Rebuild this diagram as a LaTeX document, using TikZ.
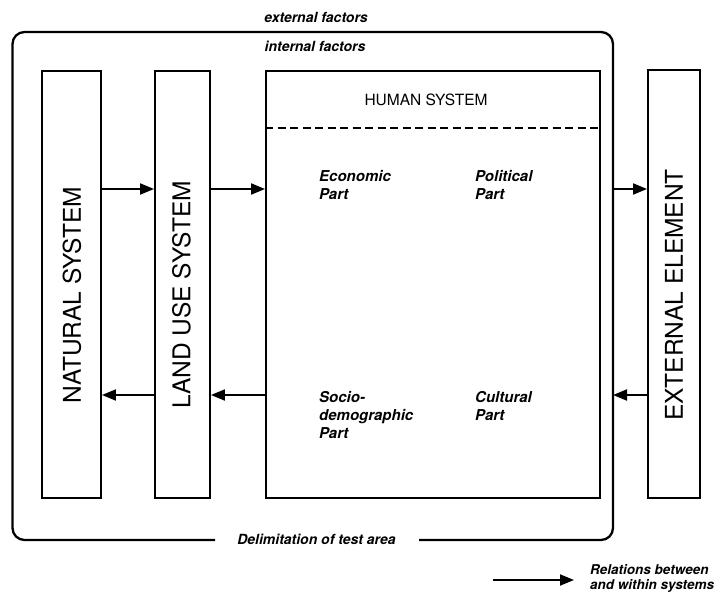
\documentclass[tikz,border=0pt]{standalone}
\usepackage{fontspec}
\setmainfont{TeX Gyre Heros}
\usetikzlibrary{arrows.meta}
\begin{document}
\begin{tikzpicture}[x=1pt,y=-1pt,
  box/.style={draw, line width=1.9pt, inner sep=0pt},
  conn/.style={line width=1.9pt, -{Triangle[length=14pt,width=11pt]}},
  syslabel/.style={font=\fontsize{24.5}{28}\selectfont, rotate=90, inner sep=0pt},
  part/.style={font=\fontsize{15}{17.8}\selectfont\bfseries\itshape, align=left, anchor=north west, inner sep=0pt},
  note/.style={font=\fontsize{14}{16}\selectfont\bfseries\itshape, inner sep=0pt}
]
\useasboundingbox (0,0) rectangle (720,594);
\fill[white] (0,0) rectangle (720,594);

% outer boundary (delimitation of test area)
\draw[line width=2.3pt, rounded corners=12pt] (215,540) -- (12.5,540) -- (12.5,32) -- (613,32) -- (613,540) -- (419,540);
\coordinate (ob) at (613,0);

% systems
\node[box, minimum width=59pt, minimum height=427pt] (ns) at (71.5,284.5) {};
\node[box, minimum width=55pt, minimum height=427pt] (lu) at (182.5,284.5) {};
\node[box, minimum width=334pt, minimum height=427pt] (hs) at (433,284.5) {};
\node[box, minimum width=52pt, minimum height=428pt] (ee) at (674,284) {};

\node[syslabel] (nsl) at (72,295) {NATURAL SYSTEM};
\node[syslabel] (lul) at (181.5,295) {LAND USE SYSTEM};
\node[syslabel] (eel) at (674,295) {EXTERNAL ELEMENT};

\node[font=\fontsize{15.5}{18}\selectfont, inner sep=0pt] (hsl) at (426,100) {HUMAN SYSTEM};
\coordinate (yD) at (0,128);
\draw[line width=1.5pt, dash pattern=on 8pt off 4.5pt] (hs.west |- yD) -- (hs.east |- yD);

\node[part] (eco) at (319,170.5) {Economic\\Part};
\node[part] (pol) at (475,170.5) {Political\\Part};
\node[part] (soc) at (319,391.5) {Socio-\\demographic\\Part};
\node[part] (cul) at (475,391.5) {Cultural\\Part};

% relations
\coordinate (yR) at (0,189);
\coordinate (yL) at (0,395);
\draw[conn] (ns.east |- yR) -- (lu.west |- yR);
\draw[conn] (lu.east |- yR) -- (hs.west |- yR);
\draw[conn] (ob |- yR) -- (ee.west |- yR);
\draw[conn] (lu.west |- yL) -- (ns.east |- yL);
\draw[conn] (hs.west |- yL) -- (lu.east |- yL);
\draw[conn] (ee.west |- yL) -- (ob |- yL);

% notes
\node[note] (ext) at (316,17) {external factors};
\node[note] (int) at (315,46) {internal factors};
\node[note] (del) at (316.5,539) {Delimitation of test area};

% legend
\coordinate (la) at (493,580);
\coordinate (lb) at (574,580);
\draw[conn] (la) -- (lb);
\node[note, font=\fontsize{13.5}{15}\selectfont\bfseries\itshape, align=left, anchor=north west] (leg) at (590,564) {Relations between\\and within systems};
\end{tikzpicture}
\end{document}
